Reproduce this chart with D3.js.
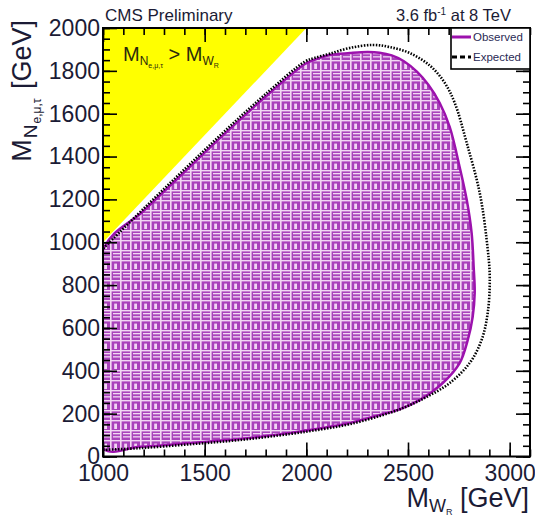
<!DOCTYPE html>
<html>
<head>
<meta charset="utf-8">
<script src="https://cdn.jsdelivr.net/npm/d3@7"></script>
<style>
  html, body { margin: 0; padding: 0; background: #fff; }
  svg { display: block; }
  text { font-family: "Liberation Sans", Arial, Helvetica, sans-serif; }
</style>
</head>
<body>
<svg id="chart" width="535" height="519"></svg>
<script>
// Axis ranges and ticks (GeV)
const xDomain = [1000, 3100];
const yDomain = [0, 2000];
const xMajorTicks = [1000, 1500, 2000, 2500, 3000];
const yMajorTicks = [0, 200, 400, 600, 800, 1000, 1200, 1400, 1600, 1800, 2000];
const xMinorTicks = d3.range(1000, 3101, 100);
const yMinorTicks = d3.range(0, 2001, 50);

// Kinematically forbidden region M_N > M_W
const forbiddenX = [1000, 1000, 2000];
const forbiddenY = [1000, 2000, 2000];

// Observed 95% CL excluded region (contour, clockwise from lower left)
const observedX = [1000, 1182, 1428, 1673, 1919, 2081, 2214, 2361, 2459, 2558, 2671, 2754, 2794, 2818, 2828, 2823, 2813, 2789, 2754, 2705, 2656, 2600, 2545, 2480, 2420, 2360, 2300, 2214, 2115, 2040, 1993, 1800, 1600, 1400, 1200, 1000];
const observedY = [38, 45, 63, 82, 110, 133, 156, 194, 220, 264, 343, 436, 544, 651, 763, 884, 1043, 1197, 1351, 1538, 1650, 1735, 1795, 1845, 1872, 1885, 1888, 1883, 1874, 1852, 1832, 1680, 1508, 1328, 1147, 964];

// Expected 95% CL limit contour
const expectedX = [1000, 1182, 1428, 1673, 1919, 2081, 2214, 2361, 2480, 2592, 2705, 2803, 2862, 2892, 2902, 2887, 2853, 2789, 2730, 2680, 2607, 2509, 2410, 2327, 2214, 2115, 2040, 1993, 1800, 1600, 1400, 1200, 1000];
const expectedY = [31, 39, 57, 77, 105, 128, 151, 189, 228, 278, 343, 436, 544, 670, 838, 1010, 1229, 1463, 1650, 1745, 1825, 1883, 1911, 1921, 1907, 1880, 1860, 1843, 1692, 1520, 1340, 1157, 970];

const legendLabels = ["Observed", "Expected"];

const svg = d3.select("#chart");
const x = d3.scaleLinear().domain(xDomain).range([103, 530]);
const y = d3.scaleLinear().domain(yDomain).range([456.5, 28]);

const purple = "#9c12ad";
const textColor = "#1b1b35";

const frameBottom = y(yDomain[0]), frameTop = y(yDomain[1]);
const frameLeft = x(xDomain[0]), frameRight = x(xDomain[1]);

const defs = svg.append("defs");
defs.append("clipPath").attr("id", "plotClip")
  .append("rect")
  .attr("x", frameLeft).attr("y", frameTop)
  .attr("width", frameRight - frameLeft)
  .attr("height", frameBottom - frameTop);

// Fill pattern for the excluded region: purple glyph rows on a pale ground
const pat = defs.append("pattern").attr("id", "fillPattern")
  .attr("patternUnits", "userSpaceOnUse")
  .attr("width", 10).attr("height", 20);
pat.append("rect").attr("width", 10).attr("height", 20).attr("fill", "#a942bb");
const light = "#f2d8f3";
pat.append("rect").attr("x", 0).attr("y", 0).attr("width", 1.6).attr("height", 20).attr("fill", light);
pat.append("rect").attr("x", 0).attr("y", 0).attr("width", 10).attr("height", 1.4).attr("fill", light);
pat.append("rect").attr("x", 4.2).attr("y", 3.6).attr("width", 2.8).attr("height", 5.4).attr("fill", light);
pat.append("rect").attr("x", 0).attr("y", 10).attr("width", 10).attr("height", 1.4).attr("fill", light);
pat.append("rect").attr("x", 3).attr("y", 13).attr("width", 7).attr("height", 1.3).attr("fill", light);
pat.append("rect").attr("x", 3).attr("y", 16.2).attr("width", 7).attr("height", 1.3).attr("fill", light);

const plot = svg.append("g").attr("clip-path", "url(#plotClip)");

// Forbidden triangle
plot.append("path")
  .attr("d", d3.line()(forbiddenX.map((d, i) => [x(d), y(forbiddenY[i])])) + "Z")
  .attr("fill", "#ffff00");

const toPts = (xs, ys) => xs.map((d, i) => [x(d), y(ys[i])]);

// Observed excluded region
plot.append("path")
  .attr("d", d3.line().curve(d3.curveCatmullRomClosed.alpha(0.5))(toPts(observedX, observedY)))
  .attr("fill", "url(#fillPattern)")
  .attr("stroke", purple)
  .attr("stroke-width", 2.5);

// Expected contour
plot.append("path")
  .attr("d", d3.line().curve(d3.curveCatmullRom.alpha(0.5))(toPts(expectedX, expectedY)))
  .attr("fill", "none")
  .attr("stroke", "#000")
  .attr("stroke-width", 2.6)
  .attr("stroke-dasharray", "1.5,1.5");

// Axes: ticks drawn inside the frame on all four sides
function styleAxis(g) {
  g.select(".domain").remove();
  g.selectAll(".tick line").attr("stroke", "#000").attr("stroke-width", 1.6);
  g.selectAll(".tick text")
    .attr("fill", textColor)
    .style("font-size", "23px");
}

svg.append("g").attr("transform", `translate(0,${frameBottom})`)
  .call(d3.axisBottom(x).tickValues(xMinorTicks).tickSize(-7).tickFormat(""))
  .call(styleAxis);
svg.append("g").attr("transform", `translate(0,${frameBottom})`)
  .call(d3.axisBottom(x).tickValues(xMajorTicks).tickSize(-14).tickPadding(8).tickFormat(d3.format("d")))
  .call(styleAxis);
svg.append("g").attr("transform", `translate(0,${frameTop})`)
  .call(d3.axisTop(x).tickValues(xMinorTicks).tickSize(-7).tickFormat(""))
  .call(styleAxis);
svg.append("g").attr("transform", `translate(0,${frameTop})`)
  .call(d3.axisTop(x).tickValues(xMajorTicks).tickSize(-14).tickFormat(""))
  .call(styleAxis);

svg.append("g").attr("transform", `translate(${frameLeft},0)`)
  .call(d3.axisLeft(y).tickValues(yMinorTicks).tickSize(-7).tickFormat(""))
  .call(styleAxis);
svg.append("g").attr("transform", `translate(${frameLeft},0)`)
  .call(d3.axisLeft(y).tickValues(yMajorTicks).tickSize(-14).tickPadding(3).tickFormat(d3.format("d")))
  .call(styleAxis);
svg.append("g").attr("transform", `translate(${frameRight},0)`)
  .call(d3.axisRight(y).tickValues(yMinorTicks).tickSize(-7).tickFormat(""))
  .call(styleAxis);
svg.append("g").attr("transform", `translate(${frameRight},0)`)
  .call(d3.axisRight(y).tickValues(yMajorTicks).tickSize(-14).tickFormat(""))
  .call(styleAxis);

// Frame
svg.append("rect")
  .attr("x", frameLeft).attr("y", frameTop)
  .attr("width", frameRight - frameLeft).attr("height", frameBottom - frameTop)
  .attr("fill", "none").attr("stroke", "#000").attr("stroke-width", 2);

// Legend
const lg = svg.append("g");
lg.append("rect")
  .attr("x", 451).attr("y", frameTop).attr("width", frameRight - 451).attr("height", 41)
  .attr("fill", "#fff").attr("stroke", "#000").attr("stroke-width", 1.6);
lg.append("line").attr("x1", 452).attr("x2", 471).attr("y1", 37).attr("y2", 37)
  .attr("stroke", purple).attr("stroke-width", 3);
lg.append("line").attr("x1", 452).attr("x2", 471).attr("y1", 57).attr("y2", 57)
  .attr("stroke", "#000").attr("stroke-width", 3).attr("stroke-dasharray", "5,3");
lg.selectAll("text.lab").data(legendLabels).join("text")
  .attr("class", "lab")
  .attr("x", 473).attr("y", (d, i) => 41 + i * 20)
  .attr("fill", "#2a2a55")
  .style("font-size", "11.5px")
  .text(d => d);

// Header texts
svg.append("text").attr("x", 105).attr("y", 21)
  .attr("fill", textColor).style("font-size", "17px")
  .text("CMS Preliminary");
const lumi = svg.append("text").attr("x", 511).attr("y", 21)
  .attr("text-anchor", "end").attr("fill", textColor).style("font-size", "16.5px");
lumi.append("tspan").text("3.6 fb");
lumi.append("tspan").attr("dy", -6).style("font-size", "10px").text("-1");
lumi.append("tspan").attr("dy", 6).text(" at 8 TeV");

// Region label inside the triangle
const reg = svg.append("text").attr("x", 123).attr("y", 61)
  .attr("fill", "#2b2b0c").style("font-size", "20px");
reg.append("tspan").text("M");
reg.append("tspan").attr("dy", 4).style("font-size", "12px").text("N");
reg.append("tspan").attr("dy", 3).style("font-size", "7px").text("e,μ,τ");
reg.append("tspan").attr("dy", -7).text(" > M");
reg.append("tspan").attr("dy", 4).style("font-size", "12px").text("W");
reg.append("tspan").attr("dy", 3).style("font-size", "7px").text("R");

// Axis titles
const xt = svg.append("text").attr("x", 529).attr("y", 507)
  .attr("text-anchor", "end").attr("fill", textColor).style("font-size", "27px");
xt.append("tspan").text("M");
xt.append("tspan").attr("dy", 5).style("font-size", "18px").text("W");
xt.append("tspan").attr("dy", 3).style("font-size", "9px").text("R");
xt.append("tspan").attr("dy", -8).text(" [GeV]");

const yt = svg.append("text").attr("transform", "translate(31,20) rotate(-90)")
  .attr("text-anchor", "end").attr("fill", textColor).style("font-size", "27px");
yt.append("tspan").text("M");
yt.append("tspan").attr("dy", 6).attr("dx", 1).style("font-size", "19px").text("N");
yt.append("tspan").attr("dy", 4).attr("dx", 1).style("font-size", "12px").text("e,μ,τ");
yt.append("tspan").attr("dy", -10).attr("dx", 2).text(" [GeV]");
</script>
</body>
</html>
